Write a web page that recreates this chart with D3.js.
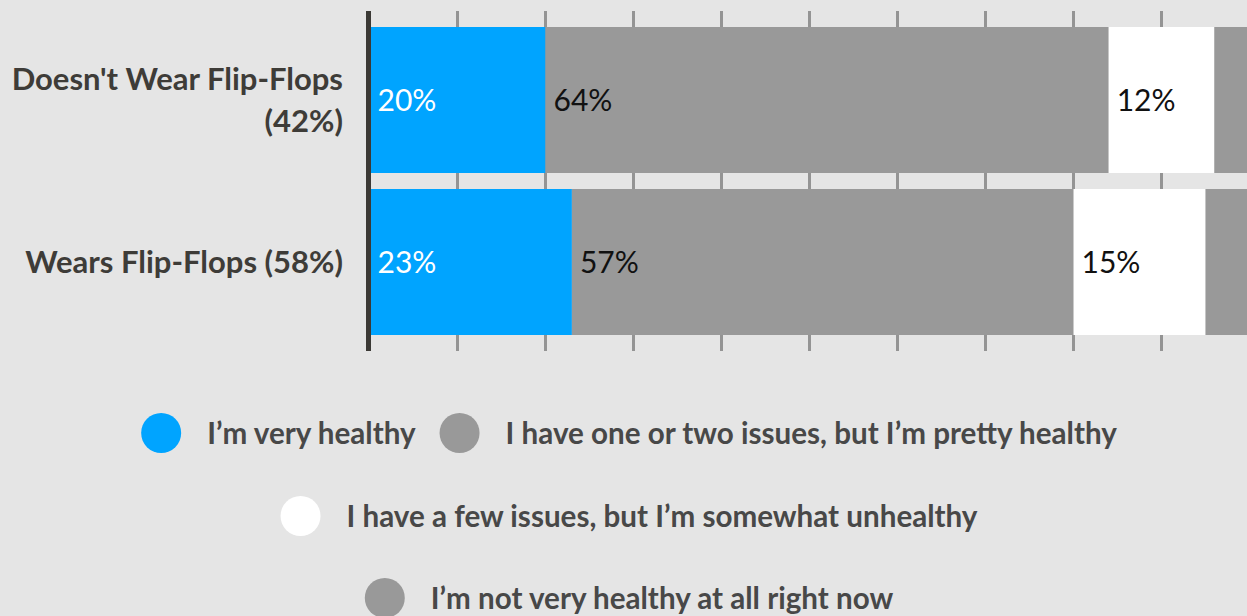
<!DOCTYPE html>
<html><head>
<meta charset="utf-8">
<script src="https://cdn.jsdelivr.net/npm/d3@7"></script>
<style>
  html, body { margin: 0; padding: 0; background: #e5e5e5; overflow: hidden; }
  svg { display: block; }
</style>
</head>
<body>
<svg id="chart" width="1247" height="616"></svg>
<script>
// Survey groups (rows) and the share of each health answer within each group (%)
const groups = ["Doesn't Wear Flip-Flops (42%)", "Wears Flip-Flops (58%)"];
const answers = [
  "I’m very healthy",
  "I have one or two issues, but I’m pretty healthy",
  "I have a few issues, but I’m somewhat unhealthy",
  "I’m not very healthy at all right now"
];
const veryHealthy   = [20, 23];
const prettyHealthy = [64, 57];
const unhealthy     = [12, 15];
const notHealthy    = [4, 5];
const answerColors  = ["#00a4ff", "#999999", "#ffffff", "#999999"];
const xTicks = [0, 10, 20, 30, 40, 50, 60, 70, 80, 90, 100];

const seriesValues = [veryHealthy, prettyHealthy, unhealthy, notHealthy];
const rows = groups.map((g, i) => {
  const r = { group: g };
  answers.forEach((a, k) => { r[a] = seriesValues[k][i]; });
  return r;
});

const svg = d3.select("#chart");
const font = "Lato, 'Open Sans', sans-serif";

const x = d3.scaleLinear().domain([0, 100]).range([369.5, 1249.5]);
const pad = 16 / 162;
const y = d3.scaleBand().domain(groups).range([19, 343])
  .paddingInner(pad).paddingOuter(pad / 2);

const stack = d3.stack().keys(answers);
const layers = stack(rows);

// vertical grid ticks, behind the bars
svg.append("g")
  .selectAll("line")
  .data(xTicks.slice(1))
  .join("line")
  .attr("x1", d => x(d)).attr("x2", d => x(d))
  .attr("y1", 11).attr("y2", 351)
  .attr("stroke", "#949494")
  .attr("stroke-width", 3);

// stacked bars
const layerG = svg.append("g")
  .selectAll("g")
  .data(layers)
  .join("g")
  .attr("fill", (d, i) => answerColors[i]);

layerG.selectAll("rect")
  .data(d => d.map(s => ({ s, key: d.key })))
  .join("rect")
  .attr("x", d => x(d.s[0]))
  .attr("width", d => x(d.s[1]) - x(d.s[0]))
  .attr("y", d => y(d.s.data.group))
  .attr("height", y.bandwidth());

// value labels (the smallest answer is left unlabeled)
const labelG = svg.append("g").attr("font-family", font).attr("font-size", 30);
layers.slice(0, 3).forEach((layer, k) => {
  labelG.selectAll(null)
    .data(layer)
    .join("text")
    .attr("x", d => x(d[0]) + 8)
    .attr("y", d => y(d.data.group) + y.bandwidth() / 2)
    .attr("dy", "0.36em")
    .attr("fill", k === 0 ? "#ffffff" : "#111111")
    .text(d => (d[1] - d[0]) + "%");
});

// baseline axis line
svg.append("line")
  .attr("x1", x(0) - 1).attr("x2", x(0) - 1)
  .attr("y1", 11).attr("y2", 351)
  .attr("stroke", "#3b3935")
  .attr("stroke-width", 5);

// category labels, wrapped to fit left margin
const catG = svg.append("g")
  .attr("font-family", font).attr("font-size", 31).attr("font-weight", 700)
  .attr("fill", "#3e3c38").attr("text-anchor", "end");

function wrapLines(text, maxW, node) {
  const words = text.split(" ");
  const lines = [];
  let cur = "";
  words.forEach(w => {
    const trial = cur ? cur + " " + w : w;
    node.textContent = trial;
    if (node.getComputedTextLength() > maxW && cur) { lines.push(cur); cur = w; }
    else cur = trial;
  });
  lines.push(cur);
  node.textContent = "";
  return lines;
}

groups.forEach(g => {
  const t = catG.append("text");
  const lines = wrapLines(g, 345, t.node());
  const cy = y(g) + y.bandwidth() / 2;
  const lh = 42.4;
  lines.forEach((ln, i) => {
    t.append("tspan")
      .attr("x", 343)
      .attr("y", cy + 10.8 + (i - (lines.length - 1) / 2) * lh)
      .text(ln);
  });
});

// legend: items flow into centered rows
const legendRows = [[0, 1], [2], [3]];
const legendY = [433, 516, 598];
const legendCenter = 629;
const r = 20, textGap = 46, itemGap = 24;
const legG = svg.append("g")
  .attr("font-family", font).attr("font-size", 29.6).attr("font-weight", 700)
  .attr("fill", "#484848");

legendRows.forEach((items, ri) => {
  const row = legG.append("g");
  let cx = 0;
  items.forEach((k, j) => {
    const item = row.append("g").attr("transform", `translate(${cx},0)`);
    item.append("circle").attr("cx", r).attr("cy", 0).attr("r", r).attr("fill", answerColors[k]);
    const t = item.append("text").attr("x", r + textGap).attr("dy", "0.36em").text(answers[k]);
    cx += r + textGap + t.node().getComputedTextLength() + itemGap;
  });
  const w = cx - itemGap;
  row.attr("transform", `translate(${legendCenter - w / 2},${legendY[ri]})`);
});
</script>
</body></html>
